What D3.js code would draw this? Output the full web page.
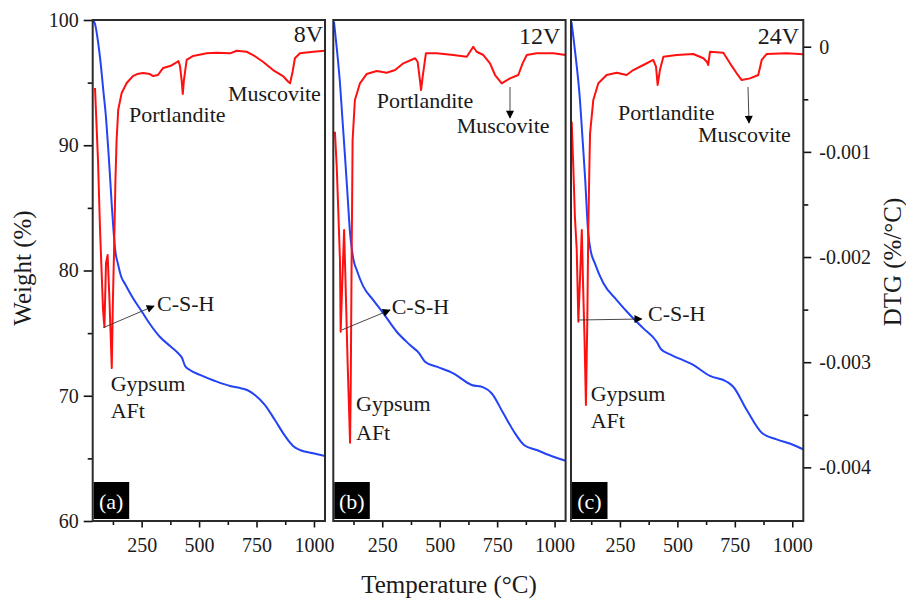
<!DOCTYPE html>
<html>
<head>
<meta charset="utf-8">
<script src="https://cdn.jsdelivr.net/npm/d3@7"></script>
<style>
  body { margin: 0; background: #fff; }
  svg text { font-family: "Liberation Serif", "Times New Roman", serif; fill: #1a1a1a; }
</style>
</head>
<body>
<svg id="chart" width="906" height="604"></svg>
<script>
// ---- data -------------------------------------------------------------
const panelNames = ["8V", "12V", "24V"];
const panelTags = ["(a)", "(b)", "(c)"];

const tempDomain = [37, 1048];
const tempTicks = [250, 500, 750, 1000];
const tempMinorTicks = [125, 375, 625, 875];

const weightDomain = [60, 100];
const weightTicks = [60, 70, 80, 90, 100];
const weightMinorTicks = [65, 75, 85, 95];

const dtgDomain = [-0.00451, 0.000254];
const dtgTicks = [0, -0.001, -0.002, -0.003, -0.004];
const dtgMinorTicks = [-0.0005, -0.0015, -0.0025, -0.0035];

// TG curves: [temperature °C, weight %]
const tga8V = [[38,100.0],[47,99.68],[61,98.16],[71,96.65],[83,94.41],[95,92.18],[105,89.62],[112,87.62],[120,85.23],[128,83.07],[136,81.48],[147,80.52],[160,79.56],[178,78.92],[212,77.80],[252,76.69],[286,75.73],[330,74.69],[374,73.97],[408,73.41],[426,73.01],[439,72.38],[460,72.06],[504,71.66],[569,71.18],[635,70.78],[678,70.62],[709,70.46],[743,70.06],[787,69.26],[830,68.06],[874,66.79],[909,65.99],[939,65.67],[991,65.43],[1048,65.19]];
const tga12V = [[40,99.86],[53,97.60],[66,94.97],[77,92.02],[88,89.09],[99,86.03],[110,82.99],[117,81.80],[125,80.84],[139,80.04],[168,78.71],[211,77.64],[255,76.58],[313,75.11],[371,74.05],[411,73.39],[436,72.72],[487,72.32],[559,71.79],[639,70.86],[690,70.67],[726,70.20],[777,68.60],[828,67.00],[867,66.07],[922,65.67],[995,65.13],[1048,64.81]];
const tga24V = [[39,99.84],[54,97.60],[76,93.61],[87,90.58],[98,87.49],[112,82.99],[122,81.64],[141,80.57],[178,78.98],[236,77.64],[294,76.45],[352,75.38],[410,74.31],[429,73.71],[468,73.31],[569,72.46],[642,71.58],[715,71.12],[743,70.72],[802,68.86],[867,67.05],[932,66.52],[1005,66.07],[1048,65.72]];

// DTG curves: [temperature °C, dW/dT %/°C]
const dtg8V = [[47,-0.000393],[60,-0.001077],[69,-0.001743],[82,-0.002504],[88,-0.002666],[95,-0.002057],[102,-0.001981],[110,-0.002409],[120,-0.003056],[125,-0.002409],[130,-0.001933],[136,-0.001268],[141,-0.000887],[148,-0.000602],[163,-0.000440],[185,-0.000345],[212,-0.000279],[230,-0.000260],[256,-0.000250],[286,-0.000260],[300,-0.000279],[321,-0.000269],[343,-0.000203],[374,-0.000184],[404,-0.000146],[410,-0.000136],[417,-0.000184],[424,-0.000318],[429,-0.000450],[434,-0.000318],[446,-0.000126],[474,-0.000088],[533,-0.000063],[577,-0.000057],[635,-0.000063],[664,-0.000038],[707,-0.000048],[735,-0.000079],[778,-0.000143],[822,-0.000222],[865,-0.000279],[888,-0.000333],[896,-0.000348],[907,-0.000238],[917,-0.000110],[939,-0.000063],[997,-0.000048],[1048,-0.000038]];
const dtg12V = [[44,-0.000808],[52,-0.001141],[59,-0.001582],[66,-0.002029],[69,-0.002710],[75,-0.002314],[81,-0.001933],[84,-0.001743],[90,-0.002219],[99,-0.002980],[110,-0.003766],[113,-0.003198],[115,-0.002568],[117,-0.001933],[119,-0.001458],[121,-0.000887],[131,-0.000507],[153,-0.000348],[182,-0.000260],[226,-0.000231],[269,-0.000247],[306,-0.000222],[342,-0.000158],[393,-0.000110],[404,-0.000143],[414,-0.000317],[419,-0.000412],[426,-0.000285],[440,-0.000063],[487,-0.000063],[559,-0.000079],[618,-0.000095],[646,0.000000],[661,-0.000048],[690,-0.000079],[719,-0.000158],[741,-0.000269],[770,-0.000348],[806,-0.000301],[842,-0.000269],[861,-0.000158],[879,-0.000079],[922,-0.000063],[995,-0.000063],[1048,-0.000079]];
const dtg24V = [[40,-0.000713],[47,-0.001141],[54,-0.001617],[62,-0.001933],[69,-0.002615],[76,-0.002219],[84,-0.001743],[89,-0.002219],[96,-0.002789],[102,-0.003407],[108,-0.002599],[112,-0.001772],[117,-0.001141],[120,-0.000824],[134,-0.000507],[156,-0.000348],[192,-0.000269],[236,-0.000247],[279,-0.000269],[308,-0.000222],[352,-0.000174],[395,-0.000126],[407,-0.000190],[414,-0.000364],[424,-0.000222],[439,-0.000095],[497,-0.000079],[569,-0.000069],[613,-0.000110],[629,-0.000146],[634,-0.000174],[642,-0.000048],[700,-0.000057],[729,-0.000158],[758,-0.000253],[780,-0.000317],[816,-0.000301],[852,-0.000269],[867,-0.000126],[889,-0.000069],[976,-0.000063],[1048,-0.000072]];

const tgaSeries = [tga8V, tga12V, tga24V];
const dtgSeries = [dtg8V, dtg12V, dtg24V];

// ---- layout -----------------------------------------------------------
const plotTop = 20, plotBottom = 521, panelW = 232.3;
const panelLefts = [92.7, 333.3, 571];
const serif = '"Liberation Serif", "Times New Roman", serif';

// Phase labels, offsets relative to each panel's left edge (px)
const notes = [
  { volt: [230.5, 42], port: [36.3, 122], musc: [135.3, 101], muscArrow: null,
    csh: [64.3, 311], cshArrow: [[10.6, 327.7], [61.3, 306]], gyp: [18, 391], aft: 418 },
  { volt: [227, 44], port: [43.4, 108], musc: [123.4, 133], muscArrow: [[176.7, 87], [176.7, 118]],
    csh: [58.4, 314], cshArrow: [[8.4, 330], [56.7, 310]], gyp: [22.7, 411], aft: 440 },
  { volt: [228, 44], port: [47, 120], musc: [127, 142], muscArrow: [[177, 87], [178, 123]],
    csh: [77, 321], cshArrow: [[7, 320], [70.7, 319]], gyp: [19.7, 401], aft: 428 }
];

const svg = d3.select("#chart");
const defs = svg.append("defs");
defs.append("marker")
  .attr("id", "arrowhead")
  .attr("viewBox", "0 0 10 10")
  .attr("refX", 9).attr("refY", 5)
  .attr("markerUnits", "userSpaceOnUse")
  .attr("markerWidth", 11).attr("markerHeight", 8)
  .attr("orient", "auto")
  .append("path").attr("d", "M0,0 L10,5 L0,10 Z").attr("fill", "#000");

const yW = d3.scaleLinear().domain(weightDomain).range([plotBottom, plotTop]);
const yD = d3.scaleLinear().domain(dtgDomain).range([plotBottom, plotTop]);

const annFont = "22px";

function styleAxis(sel, withText) {
  sel.attr("font-family", serif);
  sel.select(".domain").remove();
  sel.selectAll("line").attr("stroke", "#111").attr("stroke-width", 1.6);
  if (withText) sel.selectAll("text").attr("font-size", "20px").style("font-family", serif);
}

panelLefts.forEach((left, i) => {
  const x = d3.scaleLinear().domain(tempDomain).range([left, left + panelW]);
  const g = svg.append("g");

  defs.append("clipPath").attr("id", "clip" + i)
    .append("rect").attr("x", left).attr("y", plotTop).attr("width", panelW).attr("height", plotBottom - plotTop);

  const plot = g.append("g").attr("clip-path", `url(#clip${i})`);

  plot.append("path")
    .datum(tgaSeries[i])
    .attr("fill", "none")
    .attr("stroke", "#2343f5")
    .attr("stroke-width", 2)
    .attr("d", d3.line().x(d => x(d[0])).y(d => yW(d[1])).curve(d3.curveMonotoneX));

  plot.append("path")
    .datum(dtgSeries[i])
    .attr("fill", "none")
    .attr("stroke", "#ff1010")
    .attr("stroke-width", 2)
    .attr("stroke-linejoin", "round")
    .attr("d", d3.line().x(d => x(d[0])).y(d => yD(d[1])));

  // bottom temperature axis
  styleAxis(g.append("g").attr("transform", `translate(0,${plotBottom})`)
    .call(d3.axisBottom(x).tickValues(tempTicks).tickSize(6.5).tickPadding(10.5).tickFormat(d3.format("d"))), true);
  styleAxis(g.append("g").attr("transform", `translate(0,${plotBottom})`)
    .call(d3.axisBottom(x).tickValues(tempMinorTicks).tickSize(4).tickFormat("")), false);

  if (i === 0) {
    styleAxis(g.append("g").attr("transform", `translate(${left},0)`)
      .call(d3.axisLeft(yW).tickValues(weightTicks).tickSize(9).tickPadding(5)), true);
    styleAxis(g.append("g").attr("transform", `translate(${left},0)`)
      .call(d3.axisLeft(yW).tickValues(weightMinorTicks).tickSize(5).tickFormat("")), false);
  }
  if (i === panelLefts.length - 1) {
    const right = left + panelW;
    styleAxis(g.append("g").attr("transform", `translate(${right},0)`)
      .call(d3.axisRight(yD).tickValues(dtgTicks).tickSize(8).tickPadding(8)
        .tickFormat(d => d === 0 ? "0" : d.toFixed(3))), true);
    styleAxis(g.append("g").attr("transform", `translate(${right},0)`)
      .call(d3.axisRight(yD).tickValues(dtgMinorTicks).tickSize(5).tickFormat("")), false);
  }

  // frame
  g.append("rect")
    .attr("x", left).attr("y", plotTop)
    .attr("width", panelW).attr("height", plotBottom - plotTop)
    .attr("fill", "none").attr("stroke", "#2b2b2b").attr("stroke-width", 2);

  // panel tag
  g.append("rect").attr("x", left + 1).attr("y", 482).attr("width", 35.5).attr("height", 37).attr("fill", "#000");
  g.append("text").attr("x", left + 18.5).attr("y", 509).attr("text-anchor", "middle")
    .attr("font-size", "22px").style("fill", "#fff").text(panelTags[i]);

  // annotations
  const n = notes[i];
  g.append("text").attr("x", left + n.volt[0]).attr("y", n.volt[1]).attr("text-anchor", "end")
    .attr("font-size", "24px").text(panelNames[i]);
  g.append("text").attr("x", left + n.port[0]).attr("y", n.port[1]).attr("font-size", annFont).text("Portlandite");
  g.append("text").attr("x", left + n.musc[0]).attr("y", n.musc[1]).attr("font-size", annFont).text("Muscovite");
  g.append("text").attr("x", left + n.csh[0]).attr("y", n.csh[1]).attr("font-size", annFont).text("C-S-H");
  g.append("text").attr("x", left + n.gyp[0]).attr("y", n.gyp[1]).attr("font-size", annFont).text("Gypsum");
  g.append("text").attr("x", left + n.gyp[0]).attr("y", n.aft).attr("font-size", annFont).text("AFt");

  const arrows = [n.cshArrow, n.muscArrow].filter(Boolean);
  arrows.forEach(a => {
    g.append("line")
      .attr("x1", left + a[0][0]).attr("y1", a[0][1])
      .attr("x2", left + a[1][0]).attr("y2", a[1][1])
      .attr("stroke", "#333").attr("stroke-width", 0.9)
      .attr("marker-end", "url(#arrowhead)");
  });
});

// axis titles
svg.append("text").attr("x", 449).attr("y", 593).attr("text-anchor", "middle")
  .attr("font-size", "25px").text("Temperature (°C)");
svg.append("text").attr("transform", "translate(31,268) rotate(-90)").attr("text-anchor", "middle")
  .attr("font-size", "25px").text("Weight (%)");
svg.append("text").attr("transform", "translate(901,262) rotate(-90)").attr("text-anchor", "middle")
  .attr("font-size", "25px").text("DTG (%/°C)");
</script>
</body>
</html>
